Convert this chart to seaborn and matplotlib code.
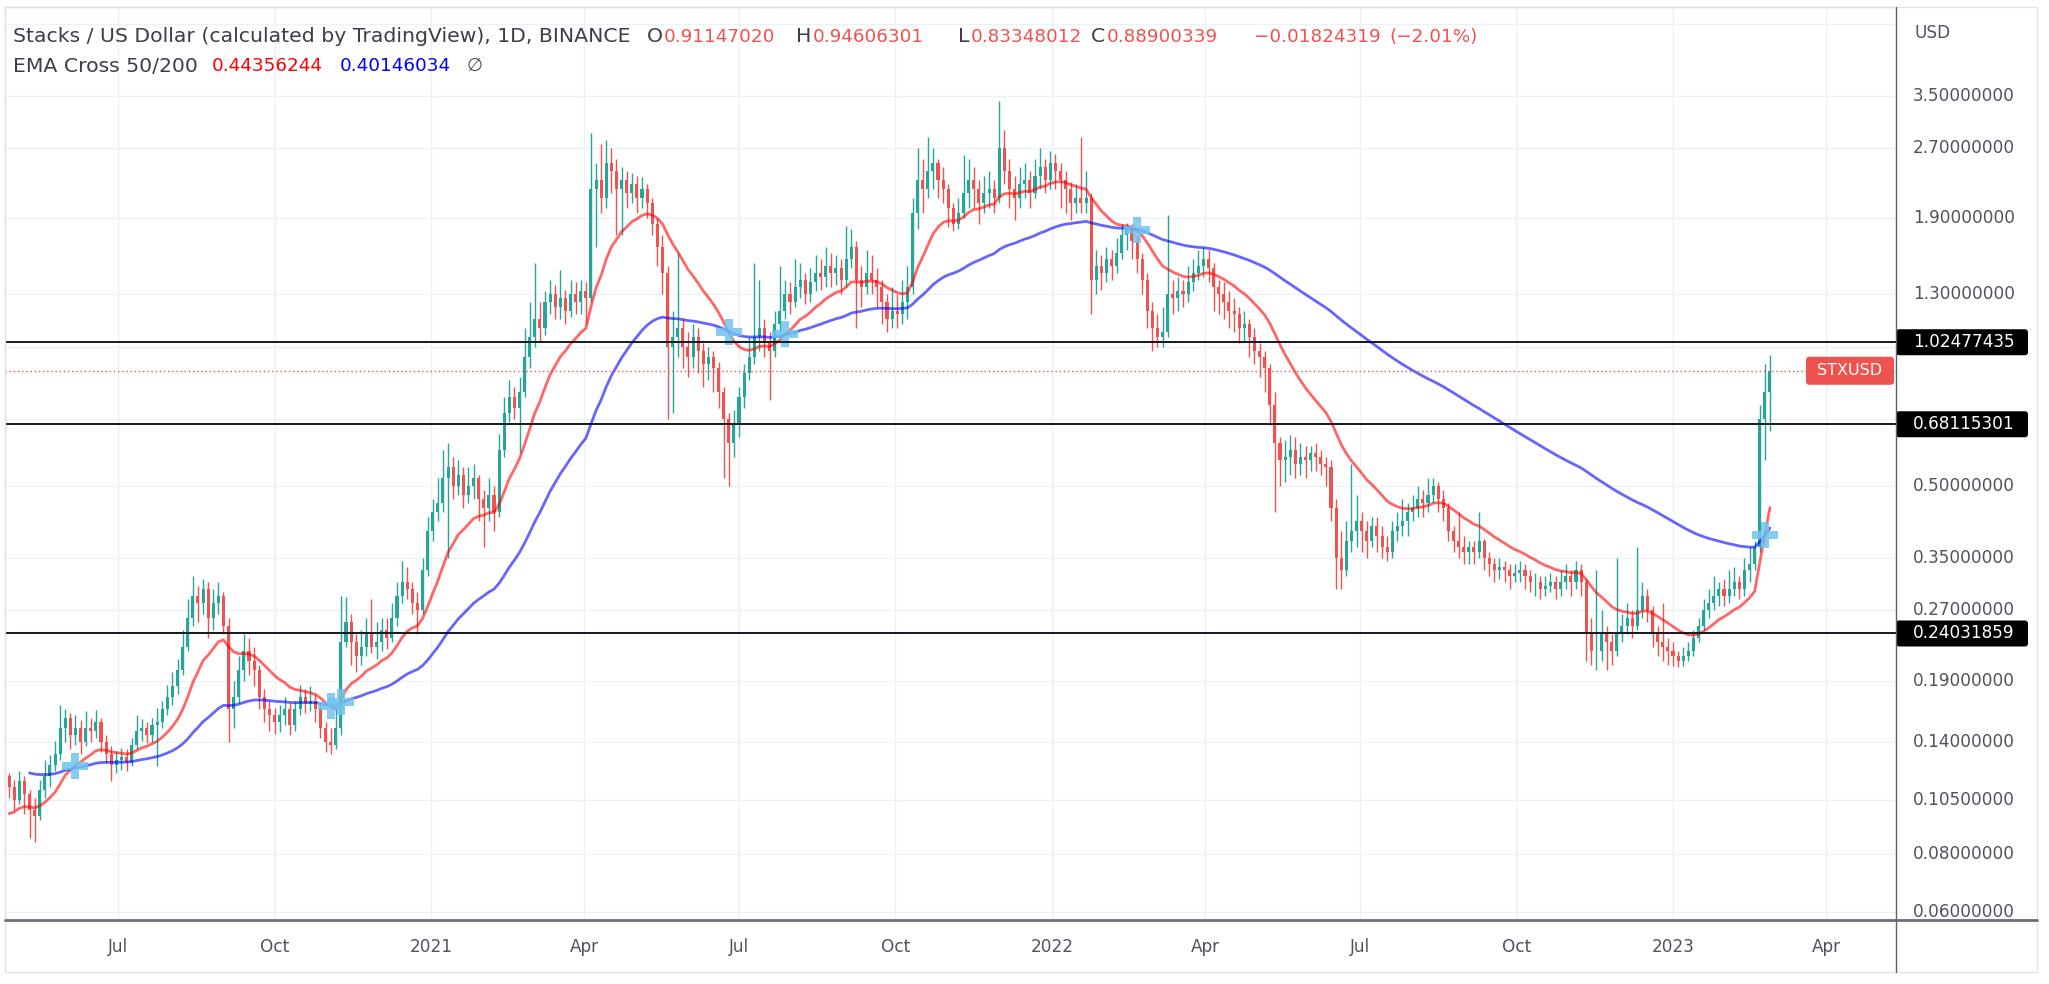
import numpy as np
import pandas as pd
import matplotlib
matplotlib.use("Agg")
import matplotlib.pyplot as plt
from matplotlib.patches import FancyBboxPatch, Rectangle
from matplotlib.lines import Line2D
from matplotlib.transforms import IdentityTransform, blended_transform_factory
import seaborn as sns

start_date = "2020-04-28"
first_open = 0.118
close = [
    0.112, 0.105, 0.115, 0.108, 0.100, 0.097, 0.110, 0.118, 0.125, 0.132,
    0.150, 0.158, 0.145, 0.150, 0.140, 0.150, 0.148, 0.155, 0.140, 0.132,
    0.125, 0.128, 0.130, 0.127, 0.138, 0.148, 0.150, 0.145, 0.152, 0.155,
    0.165, 0.175, 0.185, 0.200, 0.225, 0.260, 0.290, 0.280, 0.300, 0.260,
    0.280, 0.290, 0.250, 0.165, 0.175, 0.200, 0.220, 0.210, 0.200, 0.175,
    0.165, 0.160, 0.155, 0.160, 0.165, 0.152, 0.165, 0.175, 0.170, 0.172,
    0.165, 0.150, 0.140, 0.138, 0.150, 0.230, 0.255, 0.230, 0.215, 0.225,
    0.240, 0.225, 0.230, 0.245, 0.235, 0.260, 0.290, 0.310, 0.300, 0.280,
    0.270, 0.330, 0.400, 0.440, 0.460, 0.520, 0.550, 0.500, 0.530, 0.480,
    0.500, 0.520, 0.470, 0.450, 0.480, 0.440, 0.600, 0.720, 0.780, 0.740,
    0.80, 0.95, 1.05, 1.15, 1.10, 1.25, 1.30, 1.22, 1.28, 1.20,
    1.30, 1.25, 1.32, 1.28, 2.20, 2.30, 2.10, 2.50, 2.40, 2.20,
    2.30, 2.15, 2.25, 2.10, 2.20, 2.05, 1.85, 1.65, 1.45, 1.00,
    1.05, 1.10, 1.00, 0.95, 1.05, 0.98, 0.92, 0.95, 0.90, 0.80,
    0.70, 0.62, 0.68, 0.78, 0.88, 0.95, 1.05, 1.10, 1.02, 0.98,
    1.12, 1.20, 1.30, 1.25, 1.35, 1.40, 1.30, 1.38, 1.45, 1.42,
    1.50, 1.45, 1.48, 1.40, 1.55, 1.65, 1.40, 1.35, 1.45, 1.40,
    1.35, 1.25, 1.15, 1.20, 1.18, 1.25, 1.35, 1.95, 2.30, 2.20,
    2.40, 2.50, 2.30, 2.20, 2.00, 1.85, 1.95, 2.15, 2.30, 2.20,
    2.05, 2.15, 2.20, 2.10, 2.70, 2.40, 2.20, 2.10, 2.25, 2.30,
    2.15, 2.35, 2.45, 2.30, 2.50, 2.40, 2.30, 2.20, 2.05, 2.10,
    2.05, 2.10, 1.40, 1.50, 1.45, 1.55, 1.50, 1.60, 1.75, 1.80,
    1.70, 1.55, 1.40, 1.20, 1.10, 1.05, 1.08, 1.30, 1.28, 1.32,
    1.30, 1.38, 1.45, 1.50, 1.55, 1.48, 1.35, 1.30, 1.25, 1.20,
    1.18, 1.10, 1.12, 1.05, 0.98, 0.95, 0.90, 0.75, 0.62, 0.57,
    0.58, 0.60, 0.56, 0.58, 0.57, 0.59, 0.58, 0.56, 0.55, 0.45,
    0.35, 0.33, 0.38, 0.40, 0.42, 0.40, 0.38, 0.41, 0.39, 0.37,
    0.36, 0.40, 0.41, 0.42, 0.44, 0.45, 0.47, 0.46, 0.48, 0.50,
    0.47, 0.45, 0.40, 0.38, 0.37, 0.36, 0.37, 0.36, 0.38, 0.35,
    0.34, 0.33, 0.335, 0.33, 0.32, 0.325, 0.33, 0.32, 0.31, 0.31,
    0.30, 0.305, 0.31, 0.30, 0.31, 0.32, 0.31, 0.33, 0.31, 0.24,
    0.22, 0.22, 0.24, 0.23, 0.22, 0.24, 0.25, 0.26, 0.25, 0.27,
    0.29, 0.27, 0.24, 0.23, 0.225, 0.22, 0.215, 0.21, 0.215, 0.22,
    0.235, 0.25, 0.27, 0.28, 0.29, 0.30, 0.29, 0.30, 0.31, 0.30,
    0.33, 0.34, 0.37, 0.70, 0.80, 0.889,
]
high = [
    0.120, 0.116, 0.121, 0.118, 0.110, 0.106, 0.116, 0.128, 0.131, 0.141,
    0.168, 0.165, 0.162, 0.160, 0.156, 0.163, 0.158, 0.164, 0.158, 0.145,
    0.137, 0.134, 0.136, 0.135, 0.143, 0.160, 0.157, 0.155, 0.158, 0.166,
    0.172, 0.186, 0.198, 0.212, 0.245, 0.285, 0.320, 0.305, 0.315, 0.310,
    0.300, 0.310, 0.295, 0.260, 0.190, 0.215, 0.240, 0.235, 0.225, 0.205,
    0.182, 0.172, 0.166, 0.168, 0.175, 0.170, 0.172, 0.186, 0.182, 0.185,
    0.178, 0.170, 0.155, 0.150, 0.165, 0.290, 0.288, 0.265, 0.240, 0.245,
    0.260, 0.285, 0.255, 0.260, 0.260, 0.280, 0.310, 0.345, 0.335, 0.310,
    0.295, 0.350, 0.430, 0.470, 0.520, 0.600, 0.620, 0.580, 0.570, 0.550,
    0.550, 0.560, 0.530, 0.490, 0.520, 0.500, 0.650, 0.780, 0.850, 0.820,
    0.86, 1.10, 1.25, 1.52, 1.25, 1.32, 1.40, 1.36, 1.47, 1.33,
    1.40, 1.38, 1.40, 1.38, 2.90, 2.50, 2.75, 2.80, 2.70, 2.55,
    2.45, 2.40, 2.38, 2.35, 2.33, 2.25, 2.10, 1.90, 1.75, 1.50,
    1.20, 1.60, 1.15, 1.08, 1.12, 1.10, 1.02, 1.00, 0.98, 0.93,
    0.82, 0.72, 0.73, 0.82, 0.92, 1.05, 1.52, 1.40, 1.15, 1.08,
    1.20, 1.50, 1.40, 1.38, 1.55, 1.52, 1.45, 1.48, 1.58, 1.55,
    1.65, 1.60, 1.58, 1.55, 1.83, 1.80, 1.70, 1.50, 1.62, 1.58,
    1.48, 1.40, 1.30, 1.35, 1.30, 1.40, 1.50, 2.10, 2.70, 2.55,
    2.85, 2.70, 2.55, 2.45, 2.25, 2.05, 2.10, 2.60, 2.55, 2.45,
    2.30, 2.35, 2.40, 2.30, 3.40, 2.95, 2.55, 2.35, 2.45, 2.50,
    2.40, 2.55, 2.70, 2.55, 2.65, 2.62, 2.50, 2.40, 2.28, 2.25,
    2.85, 2.40, 2.15, 1.62, 1.58, 1.65, 1.62, 1.72, 1.85, 1.86,
    1.85, 1.75, 1.60, 1.45, 1.25, 1.18, 1.22, 1.93, 1.40, 1.42,
    1.40, 1.50, 1.55, 1.62, 1.65, 1.62, 1.52, 1.40, 1.38, 1.32,
    1.28, 1.22, 1.20, 1.15, 1.10, 1.02, 0.98, 0.92, 0.80, 0.64,
    0.63, 0.645, 0.64, 0.62, 0.61, 0.61, 0.62, 0.60, 0.58, 0.57,
    0.47, 0.40, 0.42, 0.56, 0.48, 0.44, 0.42, 0.43, 0.43, 0.41,
    0.39, 0.42, 0.44, 0.47, 0.46, 0.48, 0.50, 0.49, 0.52, 0.52,
    0.51, 0.49, 0.46, 0.41, 0.44, 0.39, 0.38, 0.38, 0.44, 0.385,
    0.36, 0.35, 0.35, 0.345, 0.34, 0.34, 0.345, 0.34, 0.33, 0.325,
    0.32, 0.32, 0.325, 0.32, 0.33, 0.34, 0.33, 0.345, 0.34, 0.315,
    0.26, 0.33, 0.27, 0.25, 0.24, 0.35, 0.265, 0.28, 0.27, 0.37,
    0.31, 0.30, 0.275, 0.25, 0.28, 0.235, 0.23, 0.22, 0.225, 0.23,
    0.245, 0.26, 0.285, 0.30, 0.32, 0.31, 0.315, 0.33, 0.335, 0.32,
    0.35, 0.37, 0.38, 0.75, 0.92, 0.96,
]
low = [
    0.106, 0.100, 0.103, 0.098, 0.087, 0.085, 0.095, 0.106, 0.112, 0.121,
    0.128, 0.140, 0.135, 0.138, 0.132, 0.137, 0.140, 0.143, 0.133, 0.126,
    0.115, 0.120, 0.122, 0.121, 0.124, 0.135, 0.141, 0.139, 0.140, 0.124,
    0.150, 0.160, 0.168, 0.178, 0.195, 0.220, 0.250, 0.255, 0.265, 0.235,
    0.245, 0.265, 0.240, 0.140, 0.150, 0.170, 0.190, 0.195, 0.185, 0.165,
    0.155, 0.148, 0.146, 0.147, 0.152, 0.145, 0.148, 0.160, 0.162, 0.163,
    0.155, 0.143, 0.133, 0.132, 0.135, 0.145, 0.225, 0.205, 0.198, 0.205,
    0.215, 0.218, 0.212, 0.220, 0.222, 0.230, 0.250, 0.280, 0.285, 0.265,
    0.240, 0.265, 0.320, 0.380, 0.420, 0.440, 0.350, 0.470, 0.480, 0.450,
    0.460, 0.470, 0.420, 0.370, 0.420, 0.400, 0.430, 0.580, 0.690, 0.700,
    0.59, 0.78, 0.90, 1.00, 1.03, 1.06, 1.18, 1.15, 1.15, 1.12,
    1.16, 1.18, 1.18, 1.12, 1.25, 1.65, 1.95, 2.00, 2.15, 1.75,
    1.75, 2.00, 2.05, 1.95, 2.00, 1.90, 1.75, 1.50, 1.30, 0.70,
    0.72, 0.95, 0.90, 0.86, 0.90, 0.88, 0.82, 0.85, 0.80, 0.74,
    0.52, 0.50, 0.58, 0.64, 0.74, 0.85, 0.92, 0.98, 0.95, 0.77,
    0.95, 1.08, 1.15, 1.18, 1.22, 1.28, 1.24, 1.25, 1.32, 1.33,
    1.35, 1.35, 1.36, 1.30, 1.35, 1.48, 1.10, 1.22, 1.30, 1.30,
    1.22, 1.12, 1.08, 1.10, 1.10, 1.12, 1.15, 1.30, 1.80, 1.95,
    2.10, 2.20, 2.10, 2.05, 1.82, 1.78, 1.80, 1.90, 2.00, 2.00,
    1.85, 1.95, 2.00, 1.95, 2.05, 2.25, 2.00, 1.88, 2.00, 2.10,
    2.00, 2.10, 2.20, 2.15, 2.20, 2.20, 2.00, 1.95, 1.88, 1.95,
    1.95, 1.95, 1.18, 1.30, 1.33, 1.38, 1.40, 1.45, 1.55, 1.62,
    1.55, 1.45, 1.30, 1.10, 0.98, 1.00, 1.00, 1.05, 1.18, 1.20,
    1.22, 1.25, 1.32, 1.40, 1.42, 1.38, 1.20, 1.18, 1.15, 1.10,
    1.08, 1.02, 1.03, 0.95, 0.92, 0.86, 0.80, 0.68, 0.44, 0.50,
    0.51, 0.53, 0.52, 0.53, 0.52, 0.54, 0.54, 0.53, 0.50, 0.42,
    0.30, 0.30, 0.32, 0.36, 0.37, 0.36, 0.35, 0.37, 0.36, 0.35,
    0.345, 0.35, 0.38, 0.39, 0.39, 0.42, 0.43, 0.43, 0.44, 0.46,
    0.44, 0.42, 0.38, 0.36, 0.35, 0.34, 0.34, 0.34, 0.35, 0.33,
    0.32, 0.31, 0.315, 0.31, 0.30, 0.31, 0.31, 0.30, 0.295, 0.29,
    0.285, 0.29, 0.295, 0.285, 0.29, 0.30, 0.29, 0.30, 0.29, 0.21,
    0.205, 0.20, 0.21, 0.20, 0.205, 0.215, 0.23, 0.24, 0.235, 0.245,
    0.26, 0.255, 0.225, 0.215, 0.21, 0.205, 0.204, 0.203, 0.204, 0.21,
    0.215, 0.23, 0.245, 0.26, 0.27, 0.275, 0.275, 0.28, 0.29, 0.285,
    0.29, 0.31, 0.33, 0.36, 0.57, 0.66,
]

# EMA Cross 50/200 -- values where the two lines start on the chart
ema_fast_len, ema_slow_len = 50, 200
ema_fast_seed = 0.098
ema_slow_seed = 0.120
ema_slow_first_bar = 4

levels = [1.02477435, 0.68115301, 0.24031859]
level_labels = ["1.02477435", "0.68115301", "0.24031859"]
last_price = 0.88900339

price_ticks = [3.5, 2.7, 1.9, 1.3, 0.5, 0.35, 0.27, 0.19, 0.14, 0.105, 0.08, 0.06]
grid_prices = [5.0, 3.5, 2.7, 1.9, 1.3, 1.0, 0.7, 0.5, 0.35, 0.27, 0.19, 0.14, 0.105, 0.08, 0.06]
time_ticks = ["2020-07-01", "2020-10-01", "2021-01-01", "2021-04-01", "2021-07-01", "2021-10-01",
              "2022-01-01", "2022-04-01", "2022-07-01", "2022-10-01", "2023-01-01", "2023-04-01"]
time_labels = ["Jul", "Oct", "2021", "Apr", "Jul", "Oct", "2022", "Apr", "Jul", "Oct", "2023", "Apr"]

title_main = "Stacks / US Dollar (calculated by TradingView), 1D, BINANCE"
ohlc_text = [("O", "0.91147020"), ("H", "0.94606301"), ("L", "0.83348012"), ("C", "0.88900339")]
change_text = ["\u22120.01824319", "(\u22122.01%)"]
ema_title = "EMA Cross 50/200"
ema_values = ["0.44356244", "0.40146034"]

# ---------------------------------------------------------------
df = pd.DataFrame({
    "date": pd.date_range(start_date, periods=len(close), freq="3D"),
    "close": close, "high": high, "low": low,
})
df["open"] = [first_open] + close[:-1]


def ema(values, length, seed, start=0):
    # daily EMA applied over 3-day bars
    a = 1 - (1 - 2 / (length + 1)) ** 3
    out = [np.nan] * len(values)
    out[start] = seed
    for i in range(start + 1, len(values)):
        out[i] = a * values[i] + (1 - a) * out[i - 1]
    return out


df["ema50"] = ema(close, ema_fast_len, ema_fast_seed)
df["ema200"] = ema(close, ema_slow_len, ema_slow_seed, ema_slow_first_bar)
sgn = np.sign(df.ema50 - df.ema200)
is_cross = (sgn != sgn.shift()) & sgn.notna() & sgn.shift().notna()
crosses = df[is_cross].copy()
crosses["val"] = (crosses.ema50 + crosses.ema200) / 2

sns.set_theme(style="white")
plt.rcParams["font.family"] = ["DejaVu Sans"]

W, H = 2049, 984
FS_LEG = 14.7   # legend words
FS_NUM = 13.2   # legend numbers
FS_AX = 12.2    # price / time scale
TXT = "#50535e"
DARK = "#3c3f48"
UP, DOWN = "#26a69a", "#ef5350"

fig = plt.figure(figsize=(W / 100, H / 100), dpi=100)
fig.patch.set_facecolor("white")
PX_L, PX_R, PX_T, PX_B = 5, 1896, 7, 920
ax = fig.add_axes([PX_L / W, 1 - PX_B / H, (PX_R - PX_L) / W, (PX_B - PX_T) / H])
ax.set_facecolor("white")

# candles
up = df.close >= df.open
cols = np.where(up, UP, DOWN)
ax.vlines(df.date, df.low, df.high, colors=cols, lw=1.0, zorder=2)
body_lo = np.minimum(df.open, df.close)
body_h = np.abs(df.close - df.open)
ax.bar(df.date, body_h, bottom=body_lo, width=1.8, color=cols, linewidth=0, zorder=2)

# EMA lines + cross markers
sns.lineplot(data=df, x="date", y="ema50", ax=ax, color="#ff0000", alpha=0.6, lw=2, estimator=None, zorder=3)
sns.lineplot(data=df, x="date", y="ema200", ax=ax, color="#0000ff", alpha=0.6, lw=2, estimator=None, zorder=3)
sns.scatterplot(data=crosses, x="date", y="val", ax=ax, marker="P", s=330,
                color="#6ec3ee", alpha=0.85, linewidth=0, zorder=4)

for v in levels:
    ax.axhline(v, color="#131722", lw=1.4, zorder=5)
ax.axhline(last_price, color=DOWN, lw=1, ls=(0, (1, 2)), zorder=5)

ax.set_yscale("log")
ax.set_ylim(0.0577, 5.44)
ax.set_xlim(pd.Timestamp("2020-04-25 14:00"), pd.Timestamp("2023-05-12 02:00"))
ax.set_yticks(grid_prices)
ax.yaxis.set_minor_locator(matplotlib.ticker.NullLocator())
ax.set_yticklabels([])
ax.set_xticks(pd.to_datetime(time_ticks))
ax.set_xticklabels(time_labels)
ax.tick_params(axis="x", length=0, pad=13, labelsize=FS_AX, labelcolor=TXT)
ax.tick_params(axis="y", length=0)
ax.grid(True, color="#edf0f5", lw=1, zorder=0)
ax.set_axisbelow(True)
ax.set_xlabel("")
ax.set_ylabel("")
for side in ["left", "top"]:
    ax.spines[side].set_color("#e0e3eb")
    ax.spines[side].set_linewidth(1)
ax.spines["right"].set_visible(False)
ax.spines["bottom"].set_visible(False)

# price scale
ax2 = fig.add_axes([PX_R / W, 1 - PX_B / H, (2037 - PX_R) / W, (PX_B - PX_T) / H])
ax2.set_yscale("log")
ax2.set_ylim(ax.get_ylim())
ax2.set_xlim(0, 1)
ax2.axis("off")
tr2 = blended_transform_factory(ax2.transAxes, ax2.transData)
for v in price_ticks:
    ax2.text(0.12, v, f"{v:.8f}", transform=tr2, ha="left", va="center",
             fontsize=FS_AX, color=TXT, clip_on=True)
fig.text(1915 / W, 1 - 33 / H, "USD", fontsize=FS_AX, color=TXT, va="center", ha="left")

# frame lines
fig.add_artist(Rectangle((PX_L / W, 1 - 972 / H), (2037 - PX_L) / W, (972 - PX_T) / H,
                         fill=False, ec="#e0e3eb", lw=1, transform=fig.transFigure))
fig.add_artist(Line2D([PX_R / W] * 2, [1 - PX_T / H, 1 - 972 / H], color="#5d606b", lw=1))
fig.add_artist(Line2D([PX_L / W, 2037 / W], [1 - PX_B / H] * 2, color="#6b6e78", lw=2))

# level labels on the price scale
for v, lab in zip(levels, level_labels):
    yp = ax.transData.transform((ax.get_xlim()[0], v))[1]
    fig.add_artist(FancyBboxPatch((PX_R, yp - 13), 132, 26, boxstyle="round,pad=0,rounding_size=3",
                                  transform=IdentityTransform(), fc="black", ec="none"))
    fig.text(1913 / W, yp / H, lab, color="white", fontsize=FS_AX, va="center", ha="left")

yp = ax.transData.transform((ax.get_xlim()[0], last_price))[1]
fig.add_artist(FancyBboxPatch((1806, yp - 14), 88, 28, boxstyle="round,pad=0,rounding_size=3",
                              transform=IdentityTransform(), fc=DOWN, ec="none"))
fig.text(1850 / W, yp / H, "STXUSD", color="white", fontsize=11.5, va="center", ha="center")

# legend rows
renderer = fig.canvas.get_renderer()


def put(x, y, s, color, size):
    t = fig.text(x / W, 1 - y / H, s, color=color, fontsize=size, va="center", ha="left")
    return x + t.get_window_extent(renderer).width


put(13, 37, title_main, DARK, FS_LEG)
for (letter, num), x0 in zip(ohlc_text, [647, 796, 958, 1091]):
    x1 = put(x0, 37, letter, DARK, FS_LEG)
    put(x1 + 1, 37, num, DOWN, FS_NUM)
x_end = put(1254, 37, change_text[0], DOWN, FS_NUM)
put(x_end + 9, 37, change_text[1], DOWN, FS_NUM)

put(13, 66, ema_title, DARK, FS_LEG)
put(212, 66, ema_values[0], "#ff0000", FS_NUM)
put(340, 66, ema_values[1], "#0000ff", FS_NUM)
put(467, 66, "\u2205", TXT, FS_NUM)

fig.savefig("out.png", dpi=100, facecolor="white")
